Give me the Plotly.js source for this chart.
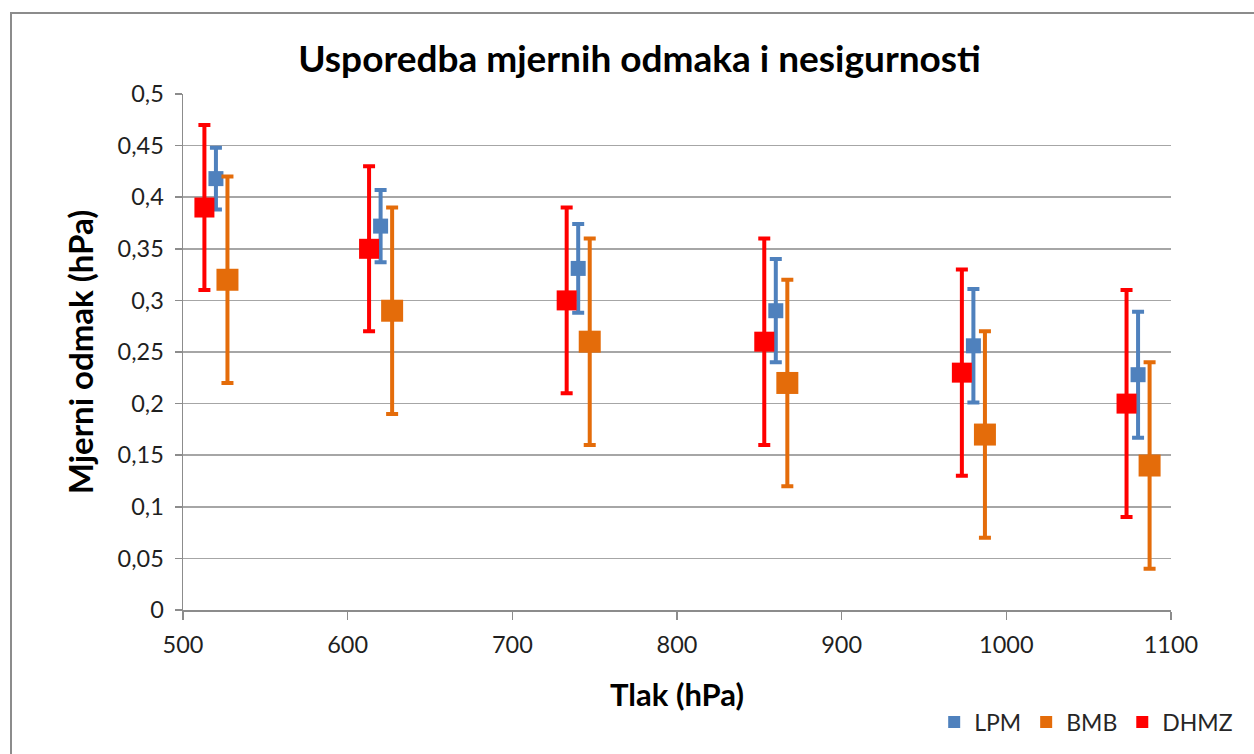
<!DOCTYPE html>
<html>
<head>
<meta charset="utf-8">
<script src="https://cdn.plot.ly/plotly-3.0.1.min.js"></script>
<style>
  html, body { margin: 0; padding: 0; background: #fff; overflow: hidden; }
  #frame { position: absolute; left: 10px; top: 12px; width: 1300px; height: 800px;
           border: 2px solid #8c8c8c; box-sizing: border-box; pointer-events: none; }
  #chart { width: 1254px; height: 754px; }
</style>
</head>
<body>
<div id="chart"></div>
<div id="frame"></div>
<script>
// Pressure (hPa) per series (series drawn slightly apart around each nominal pressure)
const lpmX  = [520, 620, 740, 860, 980, 1080];
const bmbX  = [527, 627, 747, 867, 987, 1087];
const dhmzX = [513, 613, 733, 853, 973, 1073];

// Measured offsets (hPa) and uncertainties (hPa)
const lpmY   = [0.418, 0.372, 0.331, 0.290, 0.256, 0.228];
const lpmErr = [0.030, 0.035, 0.043, 0.050, 0.055, 0.061];
const bmbY   = [0.32, 0.29, 0.26, 0.22, 0.17, 0.14];
const bmbErr = [0.10, 0.10, 0.10, 0.10, 0.10, 0.10];
const dhmzY   = [0.39, 0.35, 0.30, 0.26, 0.23, 0.20];
const dhmzErr = [0.08, 0.08, 0.09, 0.10, 0.10, 0.11];

const seriesNames = ['LPM', 'BMB', 'DHMZ'];
const xTicks = [500, 600, 700, 800, 900, 1000, 1100];

const FONT = 'Lato, "Open Sans", sans-serif';

function trace(name, x, y, err, color, size) {
  return {
    type: 'scatter', mode: 'markers', name: name, x: x, y: y,
    marker: { symbol: 'square', size: size, color: color },
    error_y: { type: 'data', array: err, visible: true, color: color, thickness: 4, width: 6 }
  };
}

const data = [
  trace(seriesNames[0], lpmX, lpmY, lpmErr, '#4F81BD', 15),
  trace(seriesNames[1], bmbX, bmbY, bmbErr, '#E46C0A', 22),
  trace(seriesNames[2], dhmzX, dhmzY, dhmzErr, '#FF0000', 20)
];

const layout = {
  width: 1254, height: 754,
  margin: { l: 183, r: 83, t: 94, b: 143 },
  paper_bgcolor: '#fff', plot_bgcolor: '#fff',
  separators: ',.',
  font: { family: FONT, color: '#262626' },
  title: { text: 'Usporedba mjernih odmaka i nesigurnosti',
           font: { family: FONT, size: 37, color: '#000', weight: 'bold' },
           x: 0.51, xanchor: 'center', y: 0.922, yanchor: 'middle' },
  xaxis: {
    range: [500, 1100], tickvals: xTicks, ticktext: xTicks.map(String),
    showgrid: false, zeroline: false,
    showline: true, linecolor: '#8c8c8c', linewidth: 1.5,
    ticks: 'outside', ticklen: 8, tickcolor: '#8c8c8c', tickwidth: 1.5,
    ticklabelstandoff: 5,
    tickfont: { size: 23.5, family: FONT, color: '#1f1f1f' },
    title: { text: 'Tlak (hPa)', standoff: 27,
             font: { size: 31, family: FONT, color: '#000', weight: 'bold' } }
  },
  yaxis: {
    range: [0, 0.5], dtick: 0.05, tick0: 0,
    showgrid: true, gridcolor: '#a6a6a6', gridwidth: 1.5, zeroline: false,
    showline: true, linecolor: '#8c8c8c', linewidth: 1.5,
    ticks: 'outside', ticklen: 7, tickcolor: '#8c8c8c', tickwidth: 1.5,
    ticklabelstandoff: 6,
    tickfont: { size: 23.5, family: FONT, color: '#1f1f1f' },
    title: { text: 'Mjerni odmak (hPa)', standoff: 14,
             font: { size: 33, family: FONT, color: '#000', weight: 'bold' } }
  },
  showlegend: true,
  legend: {
    orientation: 'h', x: 1.068, xanchor: 'right', y: -0.215, yanchor: 'middle',
    font: { size: 23, family: FONT, color: '#262626' },
    itemsizing: 'constant', itemwidth: 30, bgcolor: 'rgba(0,0,0,0)'
  }
};

Plotly.newPlot('chart', data, layout, { displayModeBar: false, staticPlot: true });
</script>
</body>
</html>
